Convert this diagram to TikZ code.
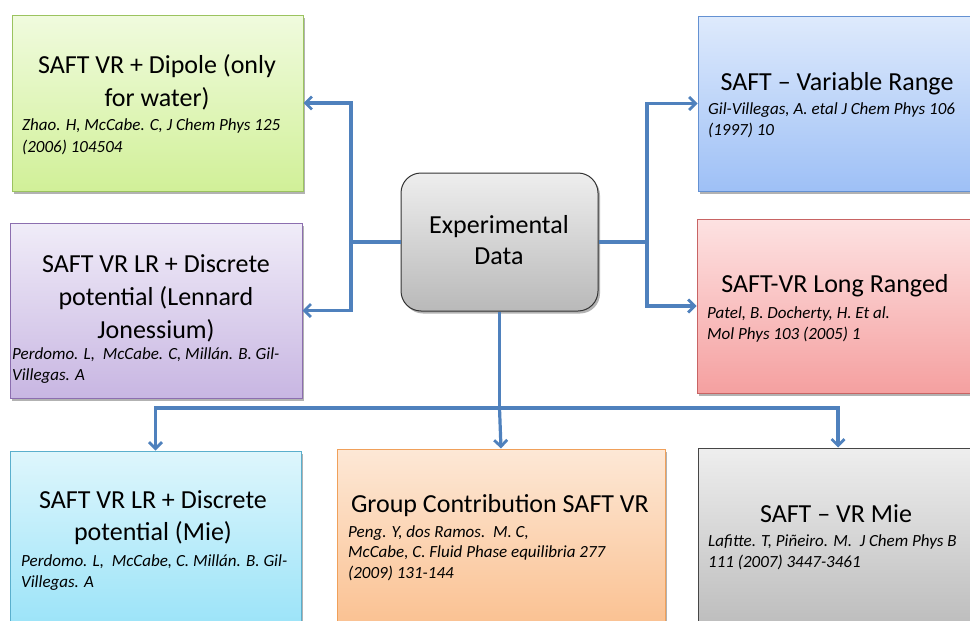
\documentclass[tikz,border=0pt]{standalone}
\usepackage{fontspec}
\setmainfont{Carlito}
\usetikzlibrary{arrows.meta,shadows}

\definecolor{link}{RGB}{79,129,189}
\definecolor{greenT}{RGB}{240,251,222}\definecolor{greenB}{RGB}{209,240,152}\definecolor{greenL}{RGB}{155,195,95}
\definecolor{purpT}{RGB}{240,236,248}\definecolor{purpB}{RGB}{200,182,226}\definecolor{purpL}{RGB}{140,110,175}
\definecolor{blueT}{RGB}{222,234,252}\definecolor{blueB}{RGB}{158,192,246}\definecolor{blueL}{RGB}{100,145,210}
\definecolor{redT}{RGB}{253,226,226}\definecolor{redB}{RGB}{245,160,160}\definecolor{redL}{RGB}{200,100,100}
\definecolor{cyanT}{RGB}{222,246,252}\definecolor{cyanB}{RGB}{150,226,248}\definecolor{cyanL}{RGB}{90,175,205}
\definecolor{orngT}{RGB}{253,232,214}\definecolor{orngB}{RGB}{250,190,140}\definecolor{orngL}{RGB}{240,160,90}
\definecolor{greyT}{RGB}{238,238,238}\definecolor{greyB}{RGB}{185,185,185}\definecolor{greyL}{RGB}{70,70,70}

\tikzset{
  card/.style n args={3}{draw=#3, line width=1pt, top color=#1, bottom color=#2,
    rectangle, inner sep=0pt,
    drop shadow={shadow xshift=2pt, shadow yshift=-2.5pt, opacity=0.3, fill=black}},
  % multi-line nodes: the base anchor sits on the last line
  title/.style={anchor=base, align=center, inner sep=0pt,
    font=\fontsize{26}{33}\selectfont},
  cite/.style={anchor=base west, align=left, inner sep=0pt,
    font=\fontsize{17}{20.5}\selectfont\itshape},
  link/.style={draw=link, line width=3.2pt},
  linkarrow/.style={link, -{Straight Barb[length=6.5pt,width=13pt,line width=2.8pt]}},
}

\begin{document}
\begin{tikzpicture}[x=1pt,y=-1pt]
\useasboundingbox (0,0) rectangle (970,621);

% boxes
\node[card={greenT}{greenB}{greenL}, minimum width=291pt, minimum height=176pt] (g) at (157.5,103) {};
\node[card={purpT}{purpB}{purpL}, minimum width=292pt, minimum height=175pt] (p) at (156,310.5) {};
\node[card={blueT}{blueB}{blueL}, minimum width=280pt, minimum height=175pt] (b) at (838,103.5) {};
\node[card={redT}{redB}{redL}, minimum width=281pt, minimum height=174pt] (r) at (837.5,306) {};
\node[card={cyanT}{cyanB}{cyanL}, minimum width=291pt, minimum height=189pt] (c) at (155.5,545.5) {};
\node[card={orngT}{orngB}{orngL}, minimum width=328pt, minimum height=191pt] (o) at (501,544.5) {};
\node[card={greyT}{greyB}{greyL}, minimum width=280pt, minimum height=192pt] (m) at (838,544) {};
\node[card={greyT}{greyB}{black!80}, rounded corners=20pt, minimum width=197pt, minimum height=138pt] (exp) at (499.5,242) {};

% titles
\node[title] (gt) at (157,106) {SAFT VR + Dipole (only\\for water)};
\node[title] (pt) at (156,338) {SAFT VR LR + Discrete\\potential (Lennard\\Jonessium)};
\node[title] (bt) at (837,90) {SAFT – Variable Range};
\node[title] (rt) at (835,292) {SAFT-VR Long Ranged};
\node[title, font=\fontsize{26}{32}\selectfont] (ct) at (153,540) {SAFT VR LR + Discrete\\potential (Mie)};
\node[title] (ot) at (500,512) {Group Contribution SAFT VR};
\node[title] (mt) at (836,522) {SAFT – VR Mie};
\node[title, font=\fontsize{26}{31}\selectfont] (et) at (499,264) {Experimental\\Data};

% references
\node[cite, font=\fontsize{17}{22}\selectfont\itshape] (gc) at (22,152) {Zhao. H, McCabe. C, J Chem Phys 125\\(2006) 104504};
\node[cite] (pc) at (12,380) {Perdomo. L,\ \ McCabe. C, Millán. B. Gil-\\Villegas. A};
\node[cite] (bc) at (708,135) {Gil-Villegas, A. etal J Chem Phys 106\\(1997) 10};
\node[cite] (rc) at (707,339) {Patel, B. Docherty, H. Et al.\\Mol Phys 103 (2005) 1};
\node[cite] (cc) at (21,587) {Perdomo. L,\ \ McCabe, C. Millán. B. Gil-\\Villegas. A};
\node[cite] (oc) at (348,578) {Peng. Y, dos Ramos.\ \ M. C,\\McCabe, C. Fluid Phase equilibria 277\\(2009) 131-144};
\node[cite] (mc) at (708,567) {Lafitte. T, Piñeiro. M.\ \ J Chem Phys B\\111 (2007) 3447-3461};

% connectors
\coordinate (jl) at (351,242);
\coordinate (jr) at (647,242);
\coordinate (jb) at (499.5,408);
\draw[link] (exp.west) -- (jl);
\draw[linkarrow] (jl) |- (g.east);
\draw[linkarrow] (jl) |- (p.east);
\draw[link] (exp.east) -- (jr);
\draw[linkarrow] (jr) |- (b.west);
\draw[linkarrow] (jr) |- (r.west);
\draw[link] (exp.south) -- (jb);
\draw[linkarrow] (jb) -- (o.north);
\draw[linkarrow] (jb) -| (c.north);
\draw[linkarrow] (jb) -| (m.north);
\end{tikzpicture}
\end{document}
